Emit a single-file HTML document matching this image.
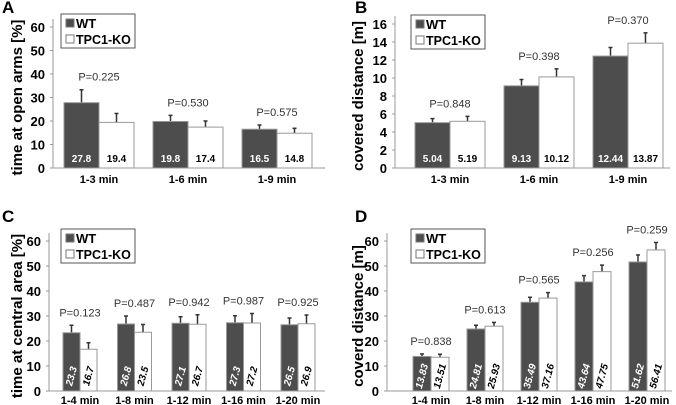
<!DOCTYPE html>
<html><head><meta charset="utf-8"><style>
body{margin:0;background:#fff}
svg{display:block;font-family:"Liberation Sans",Arial,sans-serif}
</style></head><body>
<svg id="chart" width="676" height="405" viewBox="0 0 676 405" xmlns="http://www.w3.org/2000/svg"></svg>
<script>
// Panel A data
const catsA = ["1-3 min","1-6 min","1-9 min"];
const wtA = [27.8,19.8,16.5];
const koA = [19.4,17.4,14.8];
const wtErrA = [5.5,2.6,1.8];
const koErrA = [3.8,2.6,2.1];
const pA = ["P=0.225","P=0.530","P=0.575"];
const ticksA = [0,10,20,30,40,50,60];
// Panel B data
const catsB = ["1-3 min","1-6 min","1-9 min"];
const wtB = [5.04,9.13,12.44];
const koB = [5.19,10.12,13.87];
const wtErrB = [0.45,0.7,0.95];
const koErrB = [0.55,0.9,1.15];
const pB = ["P=0.848","P=0.398","P=0.370"];
const ticksB = [0,2,4,6,8,10,12,14,16];
// Panel C data
const catsC = ["1-4 min","1-8 min","1-12 min","1-16 min","1-20 min"];
const wtC = [23.3,26.8,27.1,27.3,26.5];
const koC = [16.7,23.5,26.7,27.2,26.9];
const wtErrC = [3.0,3.2,2.6,2.8,2.7];
const koErrC = [2.6,3.1,3.8,3.8,3.5];
const pC = ["P=0.123","P=0.487","P=0.942","P=0.987","P=0.925"];
const ticksC = [0,10,20,30,40,50,60];
// Panel D data
const catsD = ["1-4 min","1-8 min","1-12 min","1-16 min","1-20 min"];
const wtD = [13.83,24.81,35.49,43.64,51.62];
const koD = [13.51,25.93,37.16,47.75,56.41];
const wtErrD = [1.0,1.5,2.0,2.5,2.8];
const koErrD = [1.2,1.5,2.2,2.6,3.0];
const pD = ["P=0.838","P=0.613","P=0.565","P=0.256","P=0.259"];
const ticksD = [0,10,20,30,40,50,60];

const svg = document.getElementById('chart');
const NS = "http://www.w3.org/2000/svg";
function mk(tag, attrs, parent){
  const e = document.createElementNS(NS, tag);
  for (const k in attrs) e.setAttribute(k, attrs[k]);
  (parent||svg).appendChild(e);
  return e;
}

function panel(cfg){
  const g = mk('g', {});
  
  
  const ymax = cfg.ticks[cfg.ticks.length-1];
  const y = v => cfg.y0 - (v/ymax)*(cfg.y0-cfg.yTop);
  const n = cfg.cats.length;
  const x = i => cfg.x0 + cfg.first + i*cfg.step;
  const L = mk('text', {x:cfg.lx, y:cfg.ly, 'font-size':17, 'font-weight':'bold', fill:'#000'}, g);
  L.textContent = cfg.letter;
  
  
  const ax = mk('line', {x1:cfg.x0, y1:cfg.yTop-8, x2:cfg.x0, y2:cfg.y0, stroke:'#999', 'stroke-width':1}, g);
  
  
  const bx = mk('line', {x1:cfg.x0, y1:cfg.y0, x2:cfg.xR, y2:cfg.y0, stroke:'#999', 'stroke-width':1}, g);
  
  
  cfg.ticks.forEach(t=>{
    mk('line', {x1:cfg.x0-3, y1:y(t), x2:cfg.x0, y2:y(t), stroke:'#999'}, g);
    const tl = mk('text', {x:cfg.x0-8, y:y(t)+5, 'text-anchor':'end', 'font-size':13, 'font-weight':'bold'}, g);
    tl.textContent = t;
    
    
  });
  const yt = mk('text', {transform:`translate(${cfg.ytx},${(cfg.y0+cfg.yTop)/2}) rotate(-90)`, 'text-anchor':'middle', 'font-size':15, 'font-weight':'bold'}, g);
  yt.textContent = cfg.ytitle;
  
  
  for (let i=0;i<n;i++){
    const c = x(i), w = cfg.bw;
    const series = [[cfg.wt[i], cfg.wtErr[i], '#4d4d4d', c-w, '#fff'], [cfg.ko[i], cfg.koErr[i], '#fff', c, '#000']];
    series.forEach((s, si)=>{
      const top = y(s[0]+s[1]);
      const xm = s[3]+w/2;
      const el = mk('line', {x1:xm, y1:y(s[0]), x2:xm, y2:top, stroke:'#333', 'stroke-width':1.5}, g);
      
      
      mk('line', {x1:xm-2, y1:top, x2:xm+2, y2:top, stroke:'#333', 'stroke-width':1.5}, g);
      const r = mk('rect', {x:s[3], y:y(s[0]), width:w, height:cfg.y0-y(s[0]), fill:s[2], stroke:'#999', 'stroke-width':1}, g);
      
      
      const vt = mk('text', {'font-size':10, 'font-weight':'bold', fill:s[4], 'text-anchor':'middle'}, g);
      if (cfg.rot){
        vt.setAttribute('transform', `translate(${xm+3},${cfg.y0-14}) rotate(-75)`);
        vt.setAttribute('font-style','italic');
      } else {
        vt.setAttribute('x', xm); vt.setAttribute('y', cfg.y0-6);
      }
      vt.textContent = s[0].toFixed(cfg.dec);
      
      
    });
    const topv = Math.max(cfg.wt[i]+cfg.wtErr[i], cfg.ko[i]+cfg.koErr[i]);
    const p = mk('text', {x:c, y:y(topv)-cfg.pGap, 'text-anchor':'middle', 'font-size':11, fill:'#333'}, g);
    p.textContent = cfg.p[i];
    
    
    const xl = mk('text', {x:c, y:cfg.xly, 'text-anchor':'middle', 'font-size':11, 'font-weight':'bold'}, g);
    xl.textContent = cfg.cats[i];
    
    
  }
  const lg = mk('g', {}, g);
  
  
  mk('rect', {x:cfg.lgx, y:cfg.lgy, width:74, height:34, fill:'#fff', stroke:'#555', 'stroke-width':1}, lg);
  mk('rect', {x:cfg.lgx+5, y:cfg.lgy+5, width:8, height:8, fill:'#4d4d4d', stroke:'#777'}, lg);
  mk('rect', {x:cfg.lgx+5, y:cfg.lgy+21, width:8, height:8, fill:'#fff', stroke:'#777'}, lg);
  const t1 = mk('text', {x:cfg.lgx+15, y:cfg.lgy+14, 'font-size':13, 'font-weight':'bold'}, lg);
  t1.textContent = 'WT';
  
  
  const t2 = mk('text', {x:cfg.lgx+15, y:cfg.lgy+30, 'font-size':12.5, 'font-weight':'bold'}, lg);
  t2.textContent = 'TPC1-KO';
  
  
}

panel({letter:'A', lx:2, ly:13, x0:53, xR:325, y0:168, yTop:27, ticks:ticksA, cats:catsA, wt:wtA, ko:koA, wtErr:wtErrA, koErr:koErrA, p:pA,
  first:46, step:89, bw:35, ytitle:'time at open arms  [%]', ytx:22, xly:183, lgx:61, lgy:14, dec:1, rot:false, pGap:9});
panel({letter:'B', lx:355, ly:13, x0:395, xR:670, y0:168, yTop:24, ticks:ticksB, cats:catsB, wt:wtB, ko:koB, wtErr:wtErrB, koErr:koErrB, p:pB,
  first:55, step:89, bw:35, ytitle:'covered distance [m]', ytx:363, xly:183, lgx:411, lgy:15, dec:2, rot:false, pGap:9});
panel({letter:'C', lx:2, ly:222, x0:49, xR:325, y0:391, yTop:241, ticks:ticksC, cats:catsC, wt:wtC, ko:koC, wtErr:wtErrC, koErr:koErrC, p:pC,
  first:31, step:54.5, bw:17, ytitle:'time at central area [%]', ytx:22, xly:404, lgx:61, lgy:229, dec:1, rot:true, pGap:9});
panel({letter:'D', lx:355, ly:222, x0:387, xR:672, y0:391, yTop:241, ticks:ticksD, cats:catsD, wt:wtD, ko:koD, wtErr:wtErrD, koErr:koErrD, p:pD,
  first:44, step:54, bw:18, ytitle:'coverd distance [m]', ytx:363, xly:404, lgx:411, lgy:229, dec:2, rot:true, pGap:9});
</script>
</body></html>
